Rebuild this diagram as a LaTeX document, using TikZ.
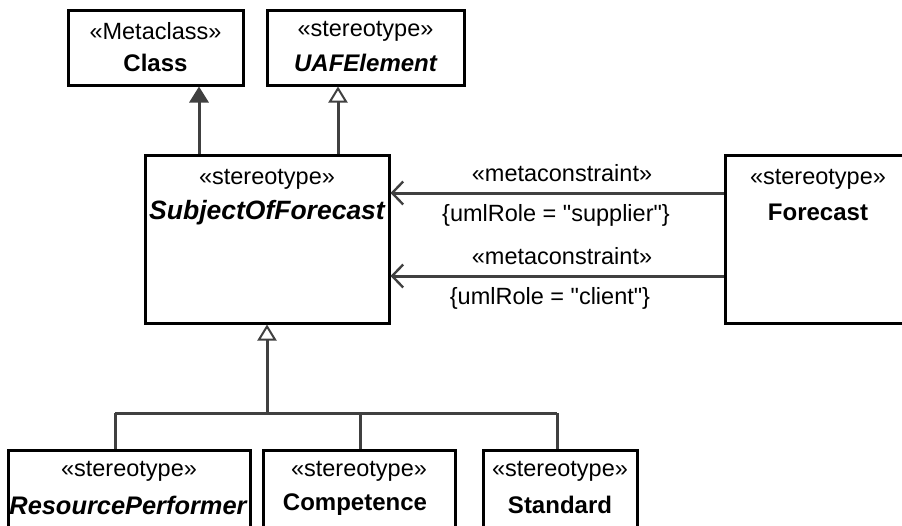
\documentclass[tikz,border=0pt]{standalone}
\usepackage{fontspec}
\setmainfont{Liberation Sans}[Ligatures=TeXOff]
\usetikzlibrary{arrows.meta,calc}
\definecolor{ln}{HTML}{404040}
\begin{document}
\begin{tikzpicture}[x=1pt,y=-1pt,
  box/.style={draw=black, line width=3pt, fill=white, inner sep=0pt, minimum height=#1},
  box/.default=75pt,
  st/.style={font=\fontsize{23.5}{27}\selectfont, inner sep=0pt},
  nm/.style={font=\fontsize{24}{28}\selectfont\bfseries, inner sep=0pt},
  nmi/.style={font=\fontsize{#1}{28}\selectfont\bfseries\itshape, inner sep=0pt},
  nmi/.default=24,
  conn/.style={draw=ln, line width=3pt},
  gen/.style={conn, -{Triangle[open, length=16pt, width=19pt, line width=2pt, fill=white]}},
  genf/.style={conn, -{Triangle[length=16pt, width=19pt, fill=ln]}},
  dep/.style={conn, -{Straight Barb[length=11pt, width=23pt, line width=2.4pt]}}
]
\useasboundingbox (0,0) rectangle (902,525);
\clip (0,0) rectangle (902,525);

% top boxes
\node[box, minimum width=175pt] (class) at (155.5,47.5) {};
\node[st] (classS) at (155.5,31) {«Metaclass»};
\node[nm] (classN) at (155.5,63) {Class};

\node[box, minimum width=197pt] (uaf) at (365.5,47.5) {};
\node[st] (uafS) at (365.5,31) {«stereotype»};
\node[nmi] (uafN) at (365.5,63) {UAFElement};

% middle boxes
\node[box=168pt, minimum width=244pt] (sof) at (267,239) {};
\node[st] (sofS) at (267,179) {«stereotype»};
\node[nmi=26.5] (sofN) at (267,213) {SubjectOfForecast};

\node[box=168pt, minimum width=186pt] (fc) at (818,239) {};
\node[st] (fcS) at (818,179) {«stereotype»};
\node[nm] (fcN) at (818,212) {Forecast};

% bottom boxes
\node[box=80pt, minimum width=242pt] (rp) at (129,490) {};
\node[st] (rpS) at (129,471) {«stereotype»};
\node[nmi=25.4] (rpN) at (128,505) {ResourcePerformer};

\node[box=80pt, minimum width=192pt] (comp) at (359,490) {};
\node[st] (compS) at (359,471) {«stereotype»};
\node[nm] (compN) at (355,505) {Competence};

\node[box=80pt, minimum width=154pt] (std) at (560,490) {};
\node[st] (stdS) at (560,471) {«stereotype»};
\node[nm] (stdN) at (560,505) {Standard};

% generalizations to top
\coordinate (ca) at (199,85);
\coordinate (ua) at (338,85);
\draw[genf] (ca |- sof.north) -- (ca |- class.south);
\draw[gen] (ua |- sof.north) -- (ua |- uaf.south);

% metaconstraints
\draw[dep] (fc.west |- 0,193) -- (sof.east |- 0,193);
\draw[dep] (fc.west |- 0,276) -- (sof.east |- 0,276);
\node[st] (m1) at (562,173) {«metaconstraint»};
\node[st] (r1) at (556,215) {\{umlRole = "supplier"\}};
\node[st] (m2) at (562,256) {«metaconstraint»};
\node[st] (r2) at (550,298) {\{umlRole = "client"\}};

% generalization tree
\coordinate (j) at (267,413);
\coordinate (jl) at (115,413);
\coordinate (jr) at (557,413);
\draw[conn] (jl) -- (jr);
\draw[conn] (jl) -- (jl |- rp.north);
\draw[conn] (360,413) -- (360,0 |- comp.north);
\draw[conn] (jr) -- (jr |- std.north);
\draw[gen] (j) -- (j |- sof.south);
\end{tikzpicture}
\end{document}
